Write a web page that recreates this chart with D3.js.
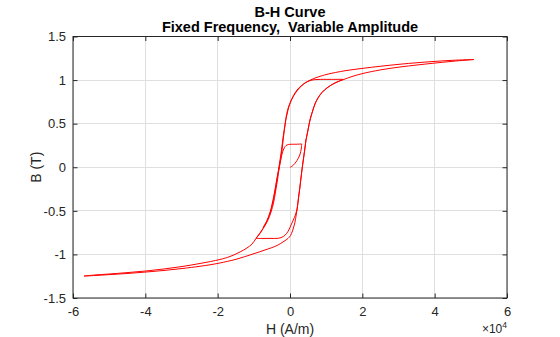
<!DOCTYPE html>
<html>
<head>
<meta charset="utf-8">
<script src="https://cdn.jsdelivr.net/npm/d3@7"></script>
<style>
  html, body { margin: 0; padding: 0; background: #fff; }
  svg { display: block; font-family: "Liberation Sans", Arial, Helvetica, sans-serif; }
</style>
</head>
<body>
<svg id="chart" width="560" height="337"></svg>
<script>
// Axis ticks
const xTicks = [-6e4, -4e4, -2e4, 0, 2e4, 4e4, 6e4];
const yTicks = [-1.5, -1, -0.5, 0, 0.5, 1, 1.5];

// Magnetisation trajectory, one array pair per sweep of H (A/m) and B (T)
// 1) initial magnetisation from the demagnetised state
const initH = [0, 550, 1380, 1940, 2290, 2710, 2960, 3150, 3240];
const initB = [0, 0.011, 0.045, 0.077, 0.103, 0.141, 0.179, 0.221, 0.267];

// 2) first descending sweep (small amplitude)
const desc1H = [3240, 1660, 0, -470, -1110, -1520, -1850, -2210, -2570, -2930, -3240, -3680, -4150, -4700, -5250, -5940, -6910, -8020, -9400];
const desc1B = [0.267, 0.264, 0.263, 0.260, 0.249, 0.226, 0.198, 0.152, 0.083, 0.003, -0.054, -0.146, -0.261, -0.376, -0.479, -0.571, -0.663, -0.743, -0.817];

// 3) first ascending sweep
const asc1H = [-9400, -7740, -5530, -3230, -1850, -970, -330, 280, 910, 1490, 1980, 2350, 2710, 3040, 3370, 3680, 4060, 4420, 4980, 5530, 6170, 6910, 7740, 8850, 10230, 12160, 14650];
const asc1B = [-0.817, -0.817, -0.816, -0.815, -0.795, -0.761, -0.720, -0.663, -0.605, -0.548, -0.470, -0.353, -0.238, -0.123, -0.009, 0.083, 0.198, 0.313, 0.427, 0.542, 0.634, 0.726, 0.795, 0.858, 0.910, 0.961, 1.009];

// 4) second descending sweep, down to negative saturation
const desc2H = [14650, 11060, 7740, 5800, 4150, 2760, 1520, 410, -410, -970, -1380, -1800, -2210, -2630, -2960, -3460, -4010, -4560, -5250, -6220, -7460, -8430, -9400, -10510, -11890, -13820, -16590, -19350, -24880, -29860, -34840, -39810, -45070, -50040, -53910, -56950];
const desc2B = [1.009, 1.008, 1.007, 0.998, 0.967, 0.915, 0.852, 0.772, 0.691, 0.600, 0.485, 0.347, 0.198, 0.083, 0.003, -0.146, -0.284, -0.410, -0.514, -0.617, -0.703, -0.760, -0.817, -0.881, -0.926, -0.972, -1.024, -1.058, -1.104, -1.139, -1.167, -1.190, -1.209, -1.225, -1.236, -1.248];

// 5) major ascending sweep to positive saturation
const asc2H = [-56950, -53910, -50040, -45070, -39810, -34840, -29860, -24880, -22120, -19350, -14930, -10230, -6910, -3590, -1660, -550, 140, 690, 1110, 1380, 1710, 2020, 2350, 2710, 3040, 3370, 3680, 4060, 4420, 4980, 5530, 6170, 6910, 7740, 8850, 10230, 12160, 14650, 17140, 20180, 24880, 30410, 35110, 39530, 45060, 50870];
const asc2B = [-1.248, -1.242, -1.232, -1.219, -1.202, -1.184, -1.162, -1.136, -1.119, -1.098, -1.056, -0.995, -0.949, -0.898, -0.849, -0.817, -0.783, -0.731, -0.674, -0.628, -0.548, -0.467, -0.353, -0.238, -0.123, -0.009, 0.083, 0.198, 0.313, 0.427, 0.542, 0.634, 0.726, 0.795, 0.858, 0.910, 0.961, 1.003, 1.041, 1.076, 1.116, 1.150, 1.173, 1.193, 1.216, 1.236];

// 6) final descending sweep
const desc3H = [50870, 45070, 39540, 35110, 30410, 24880, 20180, 15210, 10230, 7740, 6080, 4420, 3040, 1940, 970, 140, -550, -1110, -1520, -1940, -2350, -2760, -3180, -3730, -4290, -4840, -5530, -6360, -7460];
const desc3B = [1.236, 1.227, 1.213, 1.199, 1.182, 1.158, 1.135, 1.107, 1.066, 1.035, 1.009, 0.974, 0.932, 0.886, 0.823, 0.749, 0.657, 0.554, 0.450, 0.335, 0.198, 0.083, -0.032, -0.169, -0.307, -0.422, -0.525, -0.611, -0.691];

const sweeps = [
  [initH, initB], [desc1H, desc1B], [asc1H, asc1B],
  [desc2H, desc2B], [asc2H, asc2B], [desc3H, desc3B]
];

const svg = d3.select("#chart");
const plotL = 73, plotR = 507, plotT = 36.5, plotB = 298;
const axisColor = "#262626";

const x = d3.scaleLinear().domain([-6e4, 6e4]).range([plotL, plotR]);
const y = d3.scaleLinear().domain([-1.5, 1.5]).range([plotB, plotT]);

// grid
const grid = svg.append("g").attr("stroke", "#dfdfdf").attr("stroke-width", 1).attr("shape-rendering", "crispEdges");
grid.selectAll("line.gx").data(xTicks).join("line").attr("class", "gx")
  .attr("x1", d => x(d)).attr("x2", d => x(d)).attr("y1", plotT).attr("y2", plotB);
grid.selectAll("line.gy").data(yTicks).join("line").attr("class", "gy")
  .attr("y1", d => y(d)).attr("y2", d => y(d)).attr("x1", plotL).attr("x2", plotR);

// curves
const line = d3.line()
  .x(d => x(d[0]))
  .y(d => y(d[1]))
  .curve(d3.curveCatmullRom.alpha(0.5));

const curves = svg.append("g").attr("fill", "none").attr("stroke", "#ff0000").attr("stroke-width", 1);
sweeps.forEach(([hs, bs]) => {
  curves.append("path").attr("d", line(hs.map((h, i) => [h, bs[i]])));
});

// axes with inward ticks
const tickLen = 4.5;
const fmtX = d => String(d / 1e4);
const fmtY = d => String(d);

function styleAxis(g) {
  g.attr("font-family", null).attr("font-size", null);
  g.select(".domain").remove();
  g.selectAll(".tick line").attr("stroke", axisColor);
  g.selectAll(".tick text").attr("fill", axisColor).style("font-size", "13px");
}

svg.append("g").attr("transform", `translate(0,${plotB})`)
  .call(d3.axisBottom(x).tickValues(xTicks).tickFormat(fmtX).tickSizeInner(-tickLen).tickSizeOuter(0).tickPadding(8.5))
  .call(styleAxis);
svg.append("g").attr("transform", `translate(0,${plotT})`)
  .call(d3.axisTop(x).tickValues(xTicks).tickFormat("").tickSizeInner(-tickLen).tickSizeOuter(0))
  .call(styleAxis);
svg.append("g").attr("transform", `translate(${plotL},0)`)
  .call(d3.axisLeft(y).tickValues(yTicks).tickFormat(fmtY).tickSizeInner(-tickLen).tickSizeOuter(0).tickPadding(7))
  .call(styleAxis);
svg.append("g").attr("transform", `translate(${plotR},0)`)
  .call(d3.axisRight(y).tickValues(yTicks).tickFormat("").tickSizeInner(-tickLen).tickSizeOuter(0))
  .call(styleAxis);

// box
svg.append("rect").attr("x", plotL).attr("y", plotT).attr("width", plotR - plotL).attr("height", plotB - plotT)
  .attr("fill", "none").attr("stroke", axisColor).attr("stroke-width", 1);

// exponent
const ex = svg.append("text").attr("x", plotR).attr("y", 333).attr("text-anchor", "end")
  .attr("fill", axisColor).style("font-size", "12px");
ex.append("tspan").text("×10");
ex.append("tspan").attr("dy", -5).style("font-size", "8.5px").text("4");

// axis labels
svg.append("text").attr("x", (plotL + plotR) / 2).attr("y", 333.5).attr("text-anchor", "middle")
  .attr("fill", axisColor).style("font-size", "14px").text("H (A/m)");
svg.append("text").attr("transform", `translate(41,${(plotT + plotB) / 2}) rotate(-90)`).attr("text-anchor", "middle")
  .attr("fill", axisColor).style("font-size", "14px").text("B (T)");

// title
const title = svg.append("text").attr("text-anchor", "middle").attr("fill", "#000")
  .style("font-size", "14.5px").style("font-weight", "bold").style("white-space", "pre");
title.append("tspan").attr("x", (plotL + plotR) / 2).attr("y", 16.5).text("B-H Curve");
title.append("tspan").attr("x", (plotL + plotR) / 2).attr("y", 31.5).text("Fixed Frequency,  Variable Amplitude");
</script>
</body>
</html>
